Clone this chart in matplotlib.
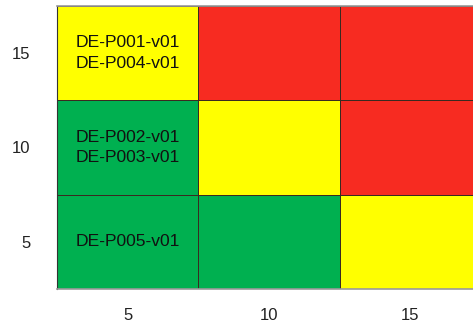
import matplotlib
matplotlib.use("Agg")
import matplotlib.pyplot as plt
from matplotlib.colors import ListedColormap
import numpy as np

x_vals = [5, 10, 15]
y_vals = [5, 10, 15]
# risk level per cell: rows = y (5, 10, 15), cols = x (5, 10, 15); 0 green, 1 yellow, 2 red
risk = [
    [0, 0, 1],
    [0, 1, 2],
    [1, 2, 2],
]
cell_labels = {
    (5, 15): "DE-P001-v01\nDE-P004-v01",
    (5, 10): "DE-P002-v01\nDE-P003-v01",
    (5, 5): "DE-P005-v01",
}
level_colors = ["#00B050", "#FFFF00", "#F72B21"]

plt.rcParams['font.family'] = ['Liberation Sans', 'DejaVu Sans']

fig = plt.figure(figsize=(4.73, 3.24), dpi=100)
ax = fig.add_axes([57/473, 35/324, 424/473, 283/324])

step = 5
xe = np.concatenate([[x_vals[0] - step/2], np.array(x_vals) + step/2])
ye = np.concatenate([[y_vals[0] - step/2], np.array(y_vals) + step/2])
ax.pcolormesh(xe, ye, np.array(risk), cmap=ListedColormap(level_colors),
              vmin=-0.5, vmax=2.5, edgecolor="#3a2a20", linewidth=0.6)

for (x, y), txt in cell_labels.items():
    ax.text(x, y, txt, ha="center", va="center", fontsize=12.6,
            color="#111111", linespacing=1.45)

ax.set_xlim(xe[0], xe[-1])
ax.set_ylim(ye[0], ye[-1])
ax.set_xticks(x_vals)
ax.set_yticks(y_vals)
ax.set_xticklabels([str(v) for v in x_vals])
ax.set_yticklabels([str(v) for v in y_vals])
ax.tick_params(axis="both", length=0, labelsize=12, colors="#222222")
ax.tick_params(axis="x", pad=14)
ax.tick_params(axis="y", pad=19)
for s in ["top", "bottom"]:
    ax.spines[s].set_color("#999999")
    ax.spines[s].set_linewidth(1.2)
ax.spines["left"].set_color("#333333")
ax.spines["left"].set_linewidth(0.8)
ax.spines["right"].set_visible(False)

fig.savefig("out.png", dpi=100)
